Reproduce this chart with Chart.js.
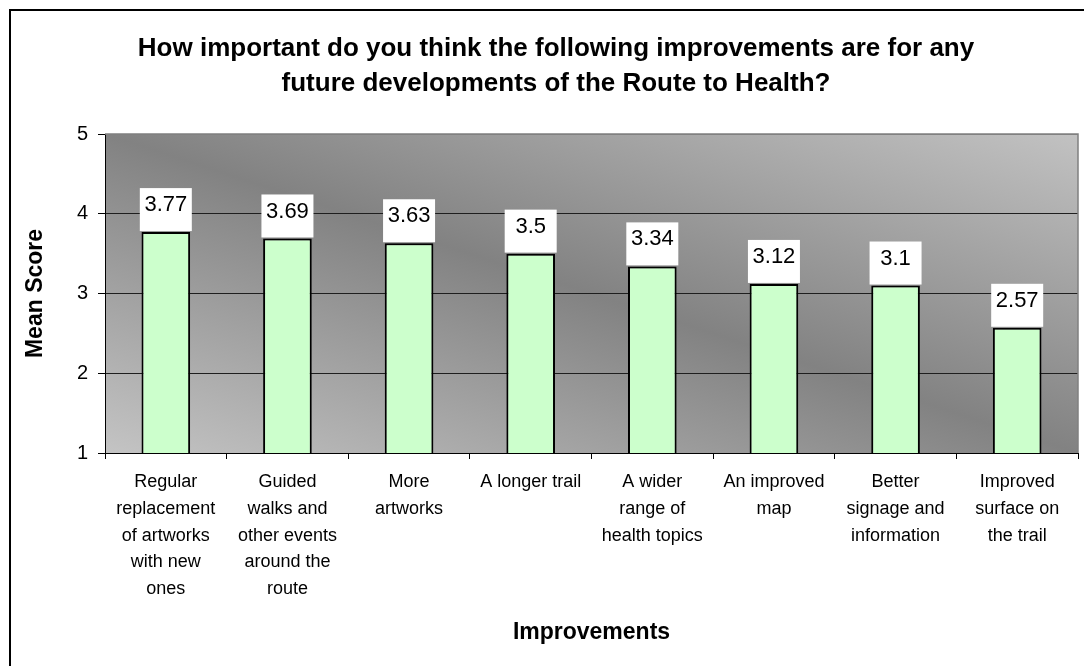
<!DOCTYPE html>
<html>
<head>
<meta charset="utf-8">
<script src="https://cdn.jsdelivr.net/npm/chart.js@4"></script>
<style>
    html, body { margin: 0; padding: 0; background: #fff; }
    #wrap { width: 1084px; height: 666px; position: relative; }
</style>
</head>
<body>
<div id="wrap"><canvas id="chart-improvements" width="1084" height="666"></canvas></div>
<script>
const categories = [
    ['Regular', 'replacement', 'of artworks', 'with new', 'ones'],
    ['Guided', 'walks and', 'other events', 'around the', 'route'],
    ['More', 'artworks'],
    ['A longer trail'],
    ['A wider', 'range of', 'health topics'],
    ['An improved', 'map'],
    ['Better', 'signage and', 'information'],
    ['Improved', 'surface on', 'the trail']
]
const meanScores = [3.77, 3.69, 3.63, 3.5, 3.34, 3.12, 3.1, 2.57]
const yTicks = [1, 2, 3, 4, 5]

const chart_ctx = document.getElementById('chart-improvements').getContext('2d')
Chart.defaults.font.family = '"Liberation Sans", Arial, sans-serif'
Chart.defaults.color = '#000'

// white page, black frame (left + top only visible) and the grey gradient plot area
const backgroundPlugin = {
    id: 'backgroundPlugin',
    beforeDraw(chart) {
        const ctx = chart.ctx
        const a = chart.chartArea
        ctx.save()
        ctx.fillStyle = '#fff'
        ctx.fillRect(0, 0, chart.width, chart.height)

        ctx.strokeStyle = '#000'
        ctx.lineWidth = 2
        ctx.beginPath()
        ctx.moveTo(10, chart.height)
        ctx.lineTo(10, 10)
        ctx.lineTo(chart.width, 10)
        ctx.stroke()

        const w = a.right - a.left
        const h = a.bottom - a.top
        const cx = (a.left + a.right) / 2
        const cy = (a.top + a.bottom) / 2
        const L = Math.sqrt(w * w + h * h)
        const s = w * h / L
        const nx = h / L, ny = -w / L
        const grad = ctx.createLinearGradient(cx - nx * s, cy - ny * s, cx + nx * s, cy + ny * s)
        grad.addColorStop(0, '#c4c4c4')
        grad.addColorStop(0.5, '#828282')
        grad.addColorStop(1, '#c2c2c2')
        ctx.fillStyle = grad
        ctx.fillRect(a.left, a.top, w, h)
        ctx.restore()
    },
    afterDraw(chart) {
        const ctx = chart.ctx
        const a = chart.chartArea
        ctx.save()
        ctx.strokeStyle = '#808080'
        ctx.lineWidth = 1.5
        ctx.beginPath()
        ctx.moveTo(a.left, a.top)
        ctx.lineTo(a.right, a.top)
        ctx.lineTo(a.right, a.bottom)
        ctx.stroke()
        ctx.restore()
    }
}

// value labels in white boxes above each bar
const valueLabels = {
    id: 'valueLabels',
    afterDatasetsDraw(chart) {
        const ctx = chart.ctx
        const meta = chart.getDatasetMeta(0)
        ctx.save()
        ctx.font = '22px "Liberation Sans", Arial, sans-serif'
        ctx.textAlign = 'center'
        ctx.textBaseline = 'middle'
        meta.data.forEach((bar, i) => {
            const text = String(meanScores[i])
            const tw = ctx.measureText(text).width
            const bw = Math.max(52, tw + 8)
            ctx.fillStyle = '#fff'
            ctx.fillRect(bar.x - bw / 2, bar.y - 44, bw, 43)
            ctx.fillStyle = '#000'
            ctx.fillText(text, bar.x, bar.y - 27)
        })
        ctx.restore()
    }
}

const config_chart_improvements = {
    type: 'bar',
    data: {
        labels: categories,
        datasets: [{
            data: meanScores,
            backgroundColor: '#ccffcc',
            borderColor: '#000',
            borderWidth: 2,
            borderSkipped: 'bottom',
            barPercentage: 0.4,
            categoryPercentage: 1
        }]
    },
    options: {
        responsive: false,
        animation: false,
        layout: { padding: { left: 34, right: 6, top: 0, bottom: 0 } },
        plugins: {
            legend: { display: false },
            tooltip: { enabled: false },
            title: {
                display: true,
                text: ['How important do you think the following improvements are for any',
                       'future developments of the Route to Health?'],
                font: { size: 26, weight: 'bold', lineHeight: 35 / 26 },
                color: '#000',
                padding: { top: 31.5, bottom: 32.5 }
            }
        },
        scales: {
            x: {
                grid: {
                    display: true,
                    drawOnChartArea: false,
                    drawTicks: true,
                    tickLength: 6,
                    offset: true,
                    color: '#000'
                },
                border: { display: true, color: '#000', width: 1 },
                ticks: {
                    autoSkip: false,
                    maxRotation: 0,
                    minRotation: 0,
                    padding: 10,
                    color: '#000',
                    font: { size: 18, lineHeight: 26.7 / 18 }
                },
                title: {
                    display: true,
                    text: 'Improvements',
                    color: '#000',
                    font: { size: 23, weight: 'bold' },
                    padding: { top: 0, bottom: 20 }
                },
                afterFit: (scale) => { scale.height = 213 }
            },
            y: {
                min: 1,
                max: 5,
                afterBuildTicks: (scale) => { scale.ticks = yTicks.map(v => ({ value: v })) },
                grid: {
                    color: (c) => c.tick && c.tick.value === 1 ? 'rgba(0,0,0,0)' : (c.tick && c.tick.value === 5 ? '#808080' : '#1e1e1e'),
                    tickColor: '#000',
                    tickLength: 7,
                    lineWidth: 1
                },
                border: { display: true, color: '#000', width: 1 },
                ticks: {
                    padding: 10,
                    color: '#000',
                    font: { size: 20 }
                },
                title: {
                    display: true,
                    text: 'Mean Score',
                    color: '#000',
                    font: { size: 23, weight: 'bold' },
                    padding: { top: -12, bottom: 0 }
                },
                afterFit: (scale) => { scale.width = 71 }
            }
        }
    },
    plugins: [backgroundPlugin, valueLabels]
}
new Chart(chart_ctx, config_chart_improvements)
</script>
</body>
</html>
